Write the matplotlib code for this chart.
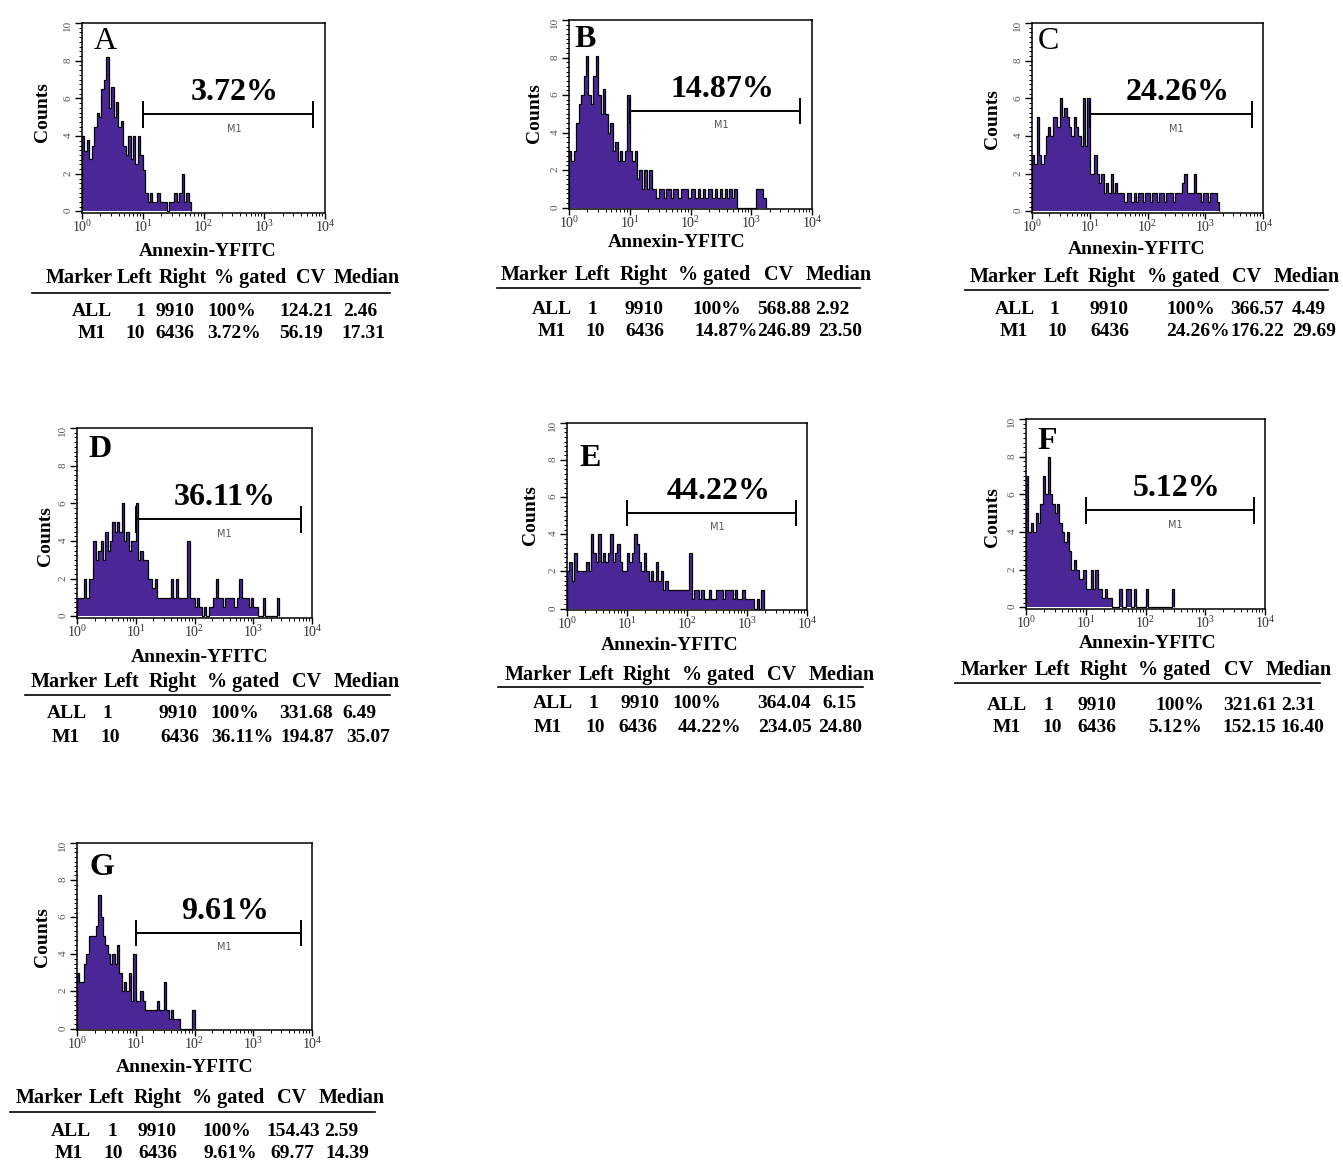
import numpy as np
import matplotlib
matplotlib.use('Agg')
import matplotlib.pyplot as plt
from matplotlib.lines import Line2D
from matplotlib.ticker import MultipleLocator, LogLocator, NullFormatter

W, H = 1343, 1163
plt.rcParams['font.family'] = ['Liberation Serif', 'DejaVu Serif']
plt.rcParams['mathtext.fontset'] = 'stix'

# ---- data (25 channels per decade) ----
panel_ids = ['A', 'B', 'C', 'D', 'E', 'F', 'G']
gated_pct = [3.72, 14.87, 24.26, 36.11, 44.22, 5.12, 9.61]
all_cv = [124.21, 568.88, 366.57, 331.68, 364.04, 321.61, 154.43]
all_median = [2.46, 2.92, 4.49, 6.49, 6.15, 2.31, 2.59]
m1_cv = [56.19, 246.89, 176.22, 194.87, 234.05, 152.15, 69.77]
m1_median = [17.31, 23.50, 29.69, 35.07, 24.80, 16.40, 14.39]
marker_left = [1, 10]
marker_right = [9910, 6436]
m1_range = (10, 6436)

counts_A = [4.0, 3.2, 3.8, 2.8, 3.5, 4.5, 5.2, 5.0, 6.5, 7.0,
            8.2, 5.5, 6.6, 5.0, 5.8, 4.5, 4.8, 3.5, 3.0, 4.0,
            2.8, 4.0, 2.5, 4.0, 3.0, 2.2, 1.0, 0.5, 1.0, 0.5,
            0.5, 1.0, 0.5, 0.5, 0.5, 0.0, 0.5, 0.5, 1.0, 0.5,
            1.0, 2.0, 0.5, 1.0, 0.5]
counts_B = [3.0, 2.5, 3.0, 4.5, 5.5, 6.0, 7.0, 8.1, 6.0, 5.5,
            7.0, 8.1, 6.0, 5.0, 6.3, 5.0, 4.0, 4.5, 3.0, 3.5,
            2.5, 3.0, 2.5, 3.0, 6.0, 3.0, 2.5, 3.0, 1.5, 2.0,
            1.0, 2.0, 1.0, 2.0, 1.0, 1.0, 0.5, 1.0, 1.0, 0.5,
            1.0, 1.0, 0.5, 1.0, 1.0, 0.5, 1.0, 1.0, 1.0, 0.5,
            1.0, 1.0, 0.5, 1.0, 0.5, 1.0, 0.5, 1.0, 1.0, 0.5,
            1.0, 0.5, 1.0, 0.5, 1.0, 0.5, 1.0, 0.5, 1.0, 0.0,
            0.0, 0.0, 0.0, 0.0, 0.0, 0.0, 0.0, 1.0, 1.0, 1.0,
            0.5]
counts_C = [3.0, 2.5, 5.0, 3.0, 2.5, 3.0, 4.0, 4.5, 4.0, 5.0,
            5.0, 4.5, 6.0, 5.0, 5.5, 5.0, 4.5, 4.0, 5.0, 4.5,
            4.0, 3.5, 6.0, 3.5, 6.0, 2.0, 2.0, 3.0, 2.0, 1.5,
            2.0, 1.0, 1.5, 1.0, 2.0, 1.0, 1.5, 1.0, 1.0, 1.0,
            0.5, 1.0, 1.0, 0.5, 1.0, 0.5, 1.0, 1.0, 0.5, 1.0,
            1.0, 0.5, 1.0, 1.0, 0.5, 1.0, 1.0, 0.5, 1.0, 1.0,
            1.0, 0.5, 1.0, 1.0, 1.0, 1.5, 2.0, 1.0, 1.0, 1.0,
            2.0, 1.0, 1.0, 0.5, 1.0, 1.0, 0.5, 1.0, 1.0, 1.0,
            0.5]
counts_D = [1.0, 1.0, 1.0, 2.0, 1.0, 2.0, 2.0, 4.0, 3.0, 3.5,
            4.0, 3.0, 4.5, 3.5, 4.0, 5.0, 4.5, 5.0, 4.5, 6.0,
            4.0, 4.5, 3.5, 4.0, 4.0, 6.0, 3.0, 3.5, 3.0, 3.0,
            2.0, 2.0, 1.5, 2.0, 1.0, 1.0, 1.0, 1.0, 1.0, 1.0,
            2.0, 1.0, 2.0, 1.0, 1.0, 1.0, 1.0, 4.0, 1.0, 1.0,
            0.5, 1.0, 0.5, 0.0, 0.5, 0.0, 0.5, 0.5, 1.0, 2.0,
            1.0, 1.0, 0.5, 1.0, 1.0, 1.0, 1.0, 0.5, 1.0, 2.0,
            1.0, 1.0, 1.0, 0.5, 1.0, 0.5, 0.5, 0.0, 0.0, 1.0,
            0.0, 0.0, 0.0, 0.0, 0.0, 1.0]
counts_E = [2.0, 2.5, 1.5, 3.0, 2.0, 2.0, 2.0, 2.0, 2.5, 2.0,
            4.0, 3.0, 2.5, 4.0, 2.5, 3.0, 2.5, 3.0, 4.0, 2.5,
            3.0, 3.5, 2.5, 2.0, 2.0, 3.0, 2.5, 3.0, 4.0, 3.5,
            2.5, 2.0, 3.0, 2.0, 1.5, 2.0, 1.5, 2.5, 1.5, 2.0,
            1.0, 1.5, 1.0, 1.0, 1.0, 1.0, 1.0, 1.0, 1.0, 1.0,
            1.0, 3.0, 0.5, 1.0, 1.0, 0.5, 1.0, 0.5, 0.5, 1.0,
            0.5, 0.5, 1.0, 1.0, 1.0, 0.5, 1.0, 1.0, 1.0, 0.5,
            1.0, 0.5, 0.5, 1.0, 0.5, 0.5, 0.5, 0.5, 0.0, 0.5,
            0.0, 1.0]
counts_F = [7.0, 4.0, 4.5, 4.0, 5.0, 4.5, 5.5, 7.0, 6.0, 8.0,
            6.0, 5.5, 5.0, 5.5, 4.5, 4.0, 3.5, 4.0, 3.0, 2.0,
            2.5, 2.0, 1.5, 1.5, 2.0, 1.0, 1.0, 2.0, 1.0, 2.0,
            1.0, 1.0, 0.5, 1.0, 0.5, 0.5, 0.0, 0.0, 0.0, 1.0,
            0.0, 0.0, 1.0, 1.0, 0.0, 1.0, 0.0, 0.0, 0.0, 0.0,
            1.0, 0.0, 0.0, 0.0, 0.0, 0.0, 0.0, 0.0, 0.0, 0.0,
            0.0, 1.0]
counts_G = [3.0, 2.5, 2.5, 3.5, 4.0, 5.0, 5.0, 5.0, 5.5, 7.2,
            6.0, 5.0, 4.5, 4.0, 3.5, 4.0, 3.5, 4.5, 3.0, 2.0,
            2.5, 2.0, 3.0, 1.5, 4.0, 1.5, 1.5, 2.0, 1.5, 1.0,
            1.0, 1.0, 1.0, 1.0, 1.5, 1.0, 1.0, 2.5, 1.0, 0.5,
            1.0, 0.5, 0.5, 0.5, 0.0, 0.0, 0.0, 0.0, 0.0, 1.0]
counts = [counts_A, counts_B, counts_C, counts_D, counts_E, counts_F, counts_G]
channels_per_decade = 25

# ---- layout in pixels of the 1343x1163 page ----
# frame: x0, ytop, x1, ybottom
frames = [(82, 23, 325, 213), (569, 20, 812, 209), (1032, 23, 1263, 213),
          (77, 428, 312, 618), (567, 423, 807, 610), (1026, 419, 1265, 609),
          (77, 843, 312, 1030)]
xlabel_pos = [(208, 252), (677, 243), (1137, 249), (200, 657), (670, 646),
              (1148, 644), (185, 1068)]
ylabel_pos = [(43, 112), (535, 113), (993, 119), (45, 536), (530, 515),
              (993, 517), (43, 937)]
letter_pos = [(0.38, 9.0), (0.26, 8.95), (0.29, 9.0), (0.39, 8.85),
              (0.38, 8.1), (0.35, 8.8), (0.42, 8.7)]
letter_weight = ['normal', 'bold', 'normal', 'bold', 'bold', 'bold', 'bold']
header_pos = [(45, 278, 352), (498, 275, 372), (967, 277, 371), (28, 682, 370),
              (502, 675, 371), (958, 670, 372), (13, 1098, 370)]
rule_pos = [(32, 390, 293), (497, 860, 288), (965, 1328, 290), (25, 390, 695),
            (498, 863, 687), (955, 1320, 683), (10, 375, 1112)]
row_y = [(312, 333), (310, 332), (310, 332), (713, 737), (703, 727),
         (705, 728), (1132, 1153)]
col_x = [([92, 140, 175, 232, 306, 360], [92, 135, 175, 234, 301, 363]),
         ([552, 592, 644, 717, 784, 832], [552, 595, 645, 726, 784, 840]),
         ([1015, 1054, 1109, 1191, 1257, 1309], [1014, 1057, 1110, 1198, 1257, 1314]),
         ([67, 107, 178, 235, 306, 359], [66, 110, 180, 242, 307, 368]),
         ([553, 593, 640, 697, 784, 839], [548, 595, 638, 710, 785, 840]),
         ([1007, 1048, 1097, 1180, 1250, 1298], [1007, 1052, 1097, 1175, 1249, 1302]),
         ([71, 112, 157, 227, 293, 341], [69, 113, 158, 230, 292, 347])]
header_words = ['Marker', 'Left', 'Right', '% gated', 'CV', 'Median']
header_offsets = [36.5, 94.5, 145.5, 216.5, 280.5, 340.5]   # for width 372

PURPLE = '#4a2697'


def fx(x):
    return x / W


def fy(y):
    return 1 - y / H


fig = plt.figure(figsize=(W / 100, H / 100), dpi=100)

for k, pid in enumerate(panel_ids):
    x0, yt, x1, yb = frames[k]
    ax = fig.add_axes([fx(x0), fy(yb), (x1 - x0) / W, (yb - yt) / H])
    c = np.array(counts[k])
    edges = 10 ** (np.arange(len(c) + 1) / channels_per_decade)
    ax.stairs(c, edges, fill=True, color=PURPLE, baseline=0)
    ax.stairs(c, edges, color='black', lw=0.9, baseline=0)

    ax.set_xscale('log')
    ax.set_xlim(1, 1e4)
    ax.set_ylim(-0.08, 10)
    ax.set_yticks([0, 2, 4, 6, 8, 10])
    ax.yaxis.set_minor_locator(MultipleLocator(0.25))
    ax.xaxis.set_major_locator(LogLocator(base=10, numticks=10))
    ax.xaxis.set_minor_locator(LogLocator(base=10, subs=np.arange(2, 10), numticks=10))
    ax.xaxis.set_minor_formatter(NullFormatter())
    ax.tick_params(axis='y', which='major', direction='out', length=5, width=1,
                   labelsize=8, labelrotation=90, labelcolor='#555555', pad=2)
    ax.tick_params(axis='y', which='minor', direction='out', length=2.5, width=0.7)
    ax.tick_params(axis='x', which='major', direction='out', length=4, width=1,
                   labelsize=10, labelcolor='#333333', pad=0.5)
    ax.tick_params(axis='x', which='minor', direction='out', length=2.5, width=0.7)
    for s in ax.spines.values():
        s.set_linewidth(1.1)

    # M1 marker bar
    lo, hi = m1_range
    ax.plot([lo, hi], [5.15, 5.15], color='black', lw=1.4)
    ax.vlines([lo, hi], 4.45, 5.85, color='black', lw=1.4)
    ax.text(10 ** 2.5, 4.4, 'M1', ha='center', va='center', fontsize=7,
            family='DejaVu Sans', color='#555555')
    ax.text(10 ** 2.52, 6.3, f'{gated_pct[k]:.2f}%', ha='center', va='center',
            fontsize=23, fontweight='bold')
    lx, ly = letter_pos[k]
    ax.text(10 ** lx, ly, pid, ha='center', va='center', fontsize=23,
            fontweight=letter_weight[k])

    # axis titles
    fig.text(fx(xlabel_pos[k][0]), fy(xlabel_pos[k][1]), 'Annexin-YFITC',
             ha='center', va='center', fontsize=14, fontweight='bold')
    fig.text(fx(ylabel_pos[k][0]), fy(ylabel_pos[k][1]), 'Counts', rotation=90,
             ha='center', va='center', fontsize=14, fontweight='bold')

    # statistics table
    hl, hy, hw = header_pos[k]
    for word, off in zip(header_words, header_offsets):
        fig.text(fx(hl + off * hw / 372), fy(hy), word, ha='center', va='center',
                 fontsize=14.5, fontweight='bold')
    r0, r1, ry = rule_pos[k]
    fig.add_artist(Line2D([fx(r0), fx(r1)], [fy(ry), fy(ry)], color='black', lw=1.2))
    rows = [['ALL', str(marker_left[0]), str(marker_right[0]), '100%',
             f'{all_cv[k]:.2f}', f'{all_median[k]:.2f}'],
            ['M1', str(marker_left[1]), str(marker_right[1]), f'{gated_pct[k]:.2f}%',
             f'{m1_cv[k]:.2f}', f'{m1_median[k]:.2f}']]
    for r, row in enumerate(rows):
        for val, cx in zip(row, col_x[k][r]):
            fig.text(fx(cx), fy(row_y[k][r]), val, ha='center', va='center',
                     fontsize=14, fontweight='bold')

fig.savefig('out.png', dpi=100)
